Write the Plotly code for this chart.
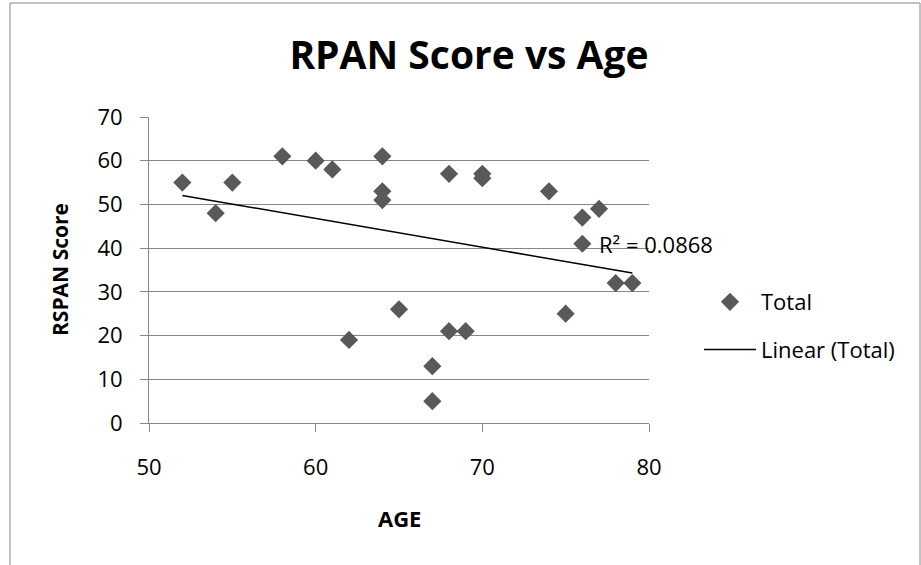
import numpy as np
import plotly.graph_objs as go

# data
age = [52, 54, 55, 58, 60, 61, 62, 64, 64, 64, 65, 67, 67, 68, 68, 69, 70, 70, 74, 75, 76, 76, 77, 78, 79]
rspan = [55, 48, 55, 61, 60, 58, 19, 61, 53, 51, 26, 13, 5, 57, 21, 21, 57, 56, 53, 25, 47, 41, 49, 32, 32]

x_ticks = [50, 60, 70, 80]
y_ticks = [0, 10, 20, 30, 40, 50, 60, 70]

FONT = "Open Sans, Lato, sans-serif"
GRID = "rgb(134,134,134)"

# linear trendline, as excel does it
slope, intercept = np.polyfit(age, rspan, 1)
fit_x = [min(age), max(age)]
fit_y = [slope * v + intercept for v in fit_x]
pred = np.polyval([slope, intercept], age)
r2 = 1 - np.sum((np.array(rspan) - pred) ** 2) / np.sum((np.array(rspan) - np.mean(rspan)) ** 2)

points = go.Scatter(
    x=age, y=rspan, mode="markers", name="Total",
    legendgroup="a",
    marker=dict(symbol="diamond", size=14, color="rgb(89,89,89)"),
)
trend = go.Scatter(
    x=fit_x, y=fit_y, mode="lines", name="Linear (Total)",
    legendgroup="b",
    line=dict(color="black", width=1.5),
)

# plot area sits at 149..649 x 117..423 px, helpers to place things in paper coords
def px_x(p):
    return (p - 149) / 500.0

def px_y(p):
    return (423 - p) / 306.0

layout = go.Layout(
    width=921, height=565,
    margin=dict(l=149, r=272, t=117, b=142),
    paper_bgcolor="white", plot_bgcolor="white",
    font=dict(family=FONT, size=22, color="black"),
    title=dict(text="<b>RPAN Score vs Age</b>", x=469 / 921, xanchor="center",
               y=1 - 55 / 565, yanchor="middle", font=dict(size=39, family=FONT)),
    xaxis=dict(range=[50, 80], tickvals=x_ticks, showgrid=False, zeroline=False,
               showline=True, linecolor=GRID, linewidth=1,
               ticks="outside", ticklen=8, tickcolor=GRID,
               ticklabelstandoff=17),
    yaxis=dict(range=[0, 70], tickvals=y_ticks, showgrid=True, gridcolor=GRID, gridwidth=1,
               zeroline=False, showline=True, linecolor=GRID, linewidth=1,
               ticks="outside", ticklen=8, tickcolor=GRID,
               ticklabelstandoff=13),
    legend=dict(x=px_x(699), y=px_y(281), xanchor="left", yanchor="top",
                traceorder="grouped", tracegroupgap=16, itemwidth=52,
                font=dict(size=22), bgcolor="rgba(0,0,0,0)"),
    annotations=[
        dict(text="R² = 0.%04d" % round(r2 * 10000), x=76.9, y=40.9,
             xref="x", yref="y", xanchor="left", yanchor="middle",
             showarrow=False, font=dict(size=22)),
        dict(text="<b>AGE</b>", x=px_x(399), y=px_y(518), xref="paper", yref="paper",
             xanchor="center", yanchor="middle", showarrow=False, font=dict(size=22)),
        dict(text="<b>RSPAN Score</b>", x=px_x(60), y=px_y(270), xref="paper", yref="paper",
             xanchor="center", yanchor="middle", textangle=-90, showarrow=False,
             font=dict(size=21)),
    ],
    shapes=[dict(type="rect", xref="paper", yref="paper",
                 x0=px_x(10), x1=px_x(920), y0=px_y(575), y1=px_y(3),
                 line=dict(color=GRID, width=1), layer="below")],
)

fig = go.Figure(data=[points, trend], layout=layout)
fig.write_html("out.html", config={"displayModeBar": False},
               post_script="document.body.style.margin='0';")
